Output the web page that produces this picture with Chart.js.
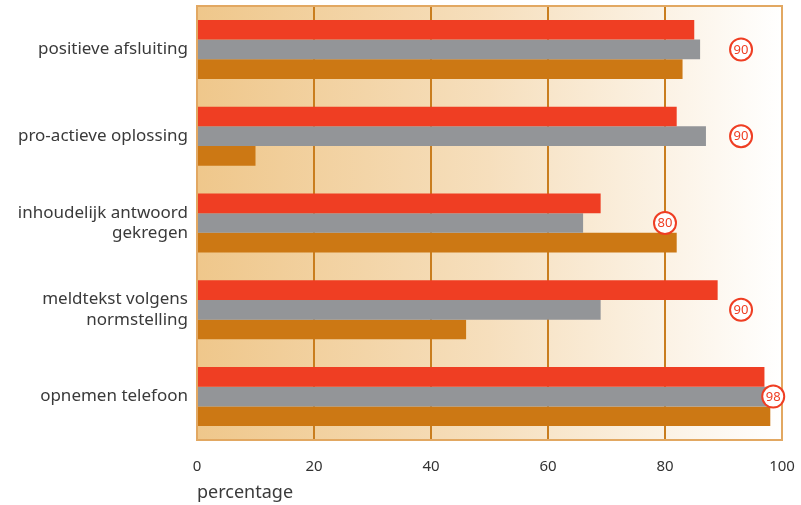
<!DOCTYPE html>
<html><head><meta charset="utf-8">
<script src="https://cdn.jsdelivr.net/npm/chart.js@4/dist/chart.umd.min.js"></script>
<style>html,body{margin:0;padding:0;background:#fff}#wrap{width:801px;height:505px}</style>
</head><body><div id="wrap"><canvas id="c"></canvas></div>
<script>
const categories = [["positieve afsluiting"],["pro-actieve oplossing"],["inhoudelijk antwoord","gekregen"],["meldtekst volgens","normstelling"],["opnemen telefoon"]];
const seriesRed = [85, 82, 69, 89, 97];
const seriesGray = [86, 87, 66, 69, 98];
const seriesOrange = [83, 10, 82, 46, 98];
const targetLabels = ["90","90","80","90","98"];
const targetX = [93, 93, 80, 93, 98.5];
const xTicks = [0,20,40,60,80,100];
const FONT = '"Noto Sans", "Liberation Sans", Arial, sans-serif';

const bgPlugin = {
  id:'bg',
  beforeDraw(chart){
    const {ctx, chartArea:a} = chart;
    const g = ctx.createLinearGradient(a.left,0,a.right,0);
    g.addColorStop(0,'#efc78b');
    g.addColorStop(0.5,'#f6dfbd');
    g.addColorStop(1,'#ffffff');
    ctx.save(); ctx.fillStyle=g; ctx.fillRect(a.left,a.top,a.right-a.left,a.bottom-a.top); ctx.restore();
  },
  afterDatasetsDraw(chart){
    const {ctx, chartArea:a, scales} = chart;
    ctx.save();
    ctx.strokeStyle='#e2a862'; ctx.lineWidth=2;
    ctx.strokeRect(a.left,a.top,a.right-a.left,a.bottom-a.top);
    const meta = chart.getDatasetMeta(1);
    targetLabels.forEach((lab,i)=>{
      const x = scales.x.getPixelForValue(targetX[i]);
      const y = meta.data[i].y;
      ctx.beginPath(); ctx.arc(x,y,11,0,Math.PI*2);
      ctx.fillStyle='#ffffff'; ctx.fill();
      ctx.lineWidth=2; ctx.strokeStyle='#ef3e23'; ctx.stroke();
      ctx.fillStyle='#ef3e23'; ctx.font='13px ' + FONT;
      ctx.textAlign='center'; ctx.textBaseline='middle';
      ctx.fillText(lab,x,y+0.5);
    });
    ctx.restore();
  }
};

new Chart(document.getElementById('c'),{
  type:'bar',
  data:{
    labels:categories,
    datasets:[
      {data:seriesRed, backgroundColor:'#ef3e23'},
      {data:seriesGray, backgroundColor:'#939598'},
      {data:seriesOrange, backgroundColor:'#cc7814'}
    ]
  },
  options:{
    indexAxis:'y',
    responsive:true, maintainAspectRatio:false, animation:false,
    layout:{padding:{top:6,right:19,left:0,bottom:0}},
    datasets:{bar:{categoryPercentage:0.68, barPercentage:1.0, borderWidth:0}},
    plugins:{legend:{display:false}, tooltip:{enabled:false}},
    scales:{
      x:{
        min:0,max:100,
        afterBuildTicks(s){ s.ticks = xTicks.map(v=>({value:v})); },
        afterFit(s){ s.height = 65; s.paddingLeft = 0; s.paddingRight = 0; },
        grid:{color:(c)=> (c.tick && (c.tick.value===0||c.tick.value===100)) ? 'rgba(0,0,0,0)' : '#c97d1e', lineWidth:2, drawTicks:false},
        border:{display:false},
        ticks:{color:'#333333', font:{family:FONT, size:15}, padding:18},
        title:{display:true, text:'percentage', align:'start', color:'#3a3a3a', font:{family:FONT, size:18}, padding:{top:0,bottom:1}}
      },
      y:{
        grid:{display:false, drawTicks:false},
        border:{display:false},
        afterFit(s){ s.width = 197; s.paddingTop = 0; s.paddingBottom = 0; },
        ticks:{color:'#3a3a3a', font:{family:FONT, size:17, lineHeight:1.2}, padding:9}
      }
    }
  },
  plugins:[bgPlugin]
});
</script></body></html>
